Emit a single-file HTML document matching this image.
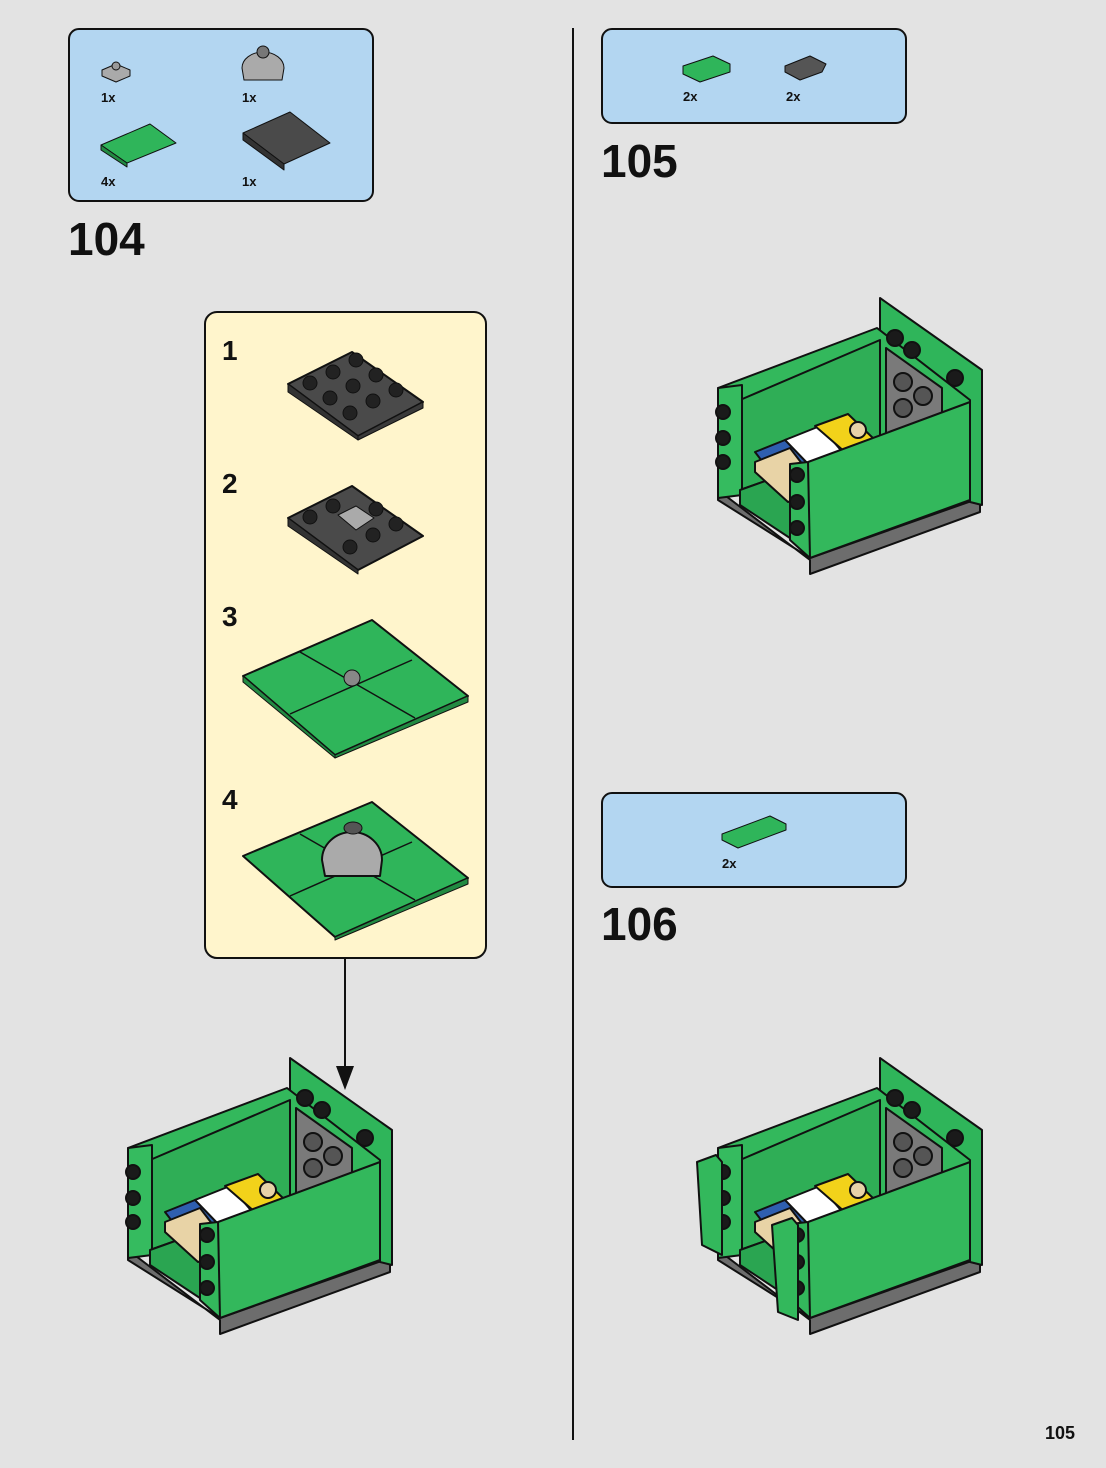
<!DOCTYPE html>
<html><head><style>
html,body{margin:0;padding:0}
body{width:1106px;height:1468px;background:#e3e3e3;position:relative;overflow:hidden;font-family:"Liberation Sans",sans-serif}
.t{position:absolute;font-weight:bold;color:#111}
</style></head><body>
<svg width="1106" height="1468" style="position:absolute;left:0;top:0" stroke-linejoin="round">
<defs>
<g id="box" stroke="#111" stroke-width="2">
  <!-- base gray -->
  <polygon points="128,1250 220,1320 220,1334 390,1272 390,1258 220,1318 128,1260" fill="#6d6d6d"/>
  <!-- right back panel -->
  <polygon points="290,1058 392,1130 392,1265 380,1262 380,1162 290,1100" fill="#2fb55a"/>
  <!-- back wall -->
  <polygon points="128,1148 287,1088 380,1160 380,1170 218,1230 152,1190 152,1250 128,1250" fill="#33b85c"/>
  <polygon points="150,1160 290,1100 290,1200 150,1250" fill="#2fae56"/>
  <!-- left wall strip -->
  <polygon points="128,1148 152,1145 152,1255 128,1258" fill="#35bb5f"/>
  <!-- floor -->
  <polygon points="150,1250 290,1200 370,1168 218,1228 218,1310 150,1265" fill="#2aa551"/>
  <!-- gray plate with studs -->
  <polygon points="296,1108 352,1148 352,1178 296,1195" fill="#7a7a7a"/>
  <circle cx="313" cy="1142" r="9" fill="#555"/><circle cx="333" cy="1156" r="9" fill="#555"/><circle cx="313" cy="1168" r="9" fill="#555"/>
  <!-- cards -->
  <polygon points="165,1212 200,1198 232,1240 198,1255" fill="#2f5fb0"/>
  <polygon points="165,1222 200,1208 232,1250 198,1262 165,1232" fill="#e8d3a6"/>
  <polygon points="195,1200 230,1186 255,1215 222,1228" fill="#fff"/>
  <polygon points="225,1186 258,1174 285,1200 255,1212" fill="#f2d21a"/>
  <circle cx="268" cy="1190" r="8" fill="#e8d3a6"/>
  <!-- front wall -->
  <polygon points="200,1224 218,1222 380,1162 380,1260 220,1318 200,1300" fill="#33b85c"/>
  <line x1="218" y1="1222" x2="220" y2="1318"/>
  <!-- studs -->
  <g fill="#1a1a1a">
   <circle cx="133" cy="1172" r="7"/><circle cx="133" cy="1198" r="7"/><circle cx="133" cy="1222" r="7"/>
   <circle cx="207" cy="1235" r="7"/><circle cx="207" cy="1262" r="7"/><circle cx="207" cy="1288" r="7"/>
   <circle cx="305" cy="1098" r="8"/><circle cx="322" cy="1110" r="8"/><circle cx="365" cy="1138" r="8"/>
  </g>
</g>
</defs>
<!-- divider -->
<line x1="573" y1="28" x2="573" y2="1440" stroke="#111" stroke-width="2"/>
<!-- parts boxes -->
<rect x="69" y="29" width="304" height="172" rx="10" fill="#b3d6f1" stroke="#111" stroke-width="2"/>
<rect x="602" y="29" width="304" height="94" rx="10" fill="#b3d6f1" stroke="#111" stroke-width="2"/>
<rect x="602" y="793" width="304" height="94" rx="10" fill="#b3d6f1" stroke="#111" stroke-width="2"/>
<!-- parts -->
<polygon points="102,70 116,64 130,70 130,76 116,82 102,76" fill="#aaa" stroke="#111"/>
<circle cx="116" cy="66" r="4" fill="#999" stroke="#111"/>
<path d="M242,68 A21,16 0 0 1 284,68 L282,80 L244,80 Z" fill="#aaa" stroke="#111"/>
<circle cx="263" cy="52" r="6" fill="#777" stroke="#111"/>
<polygon points="101,145 150,124 176,143 127,163" fill="#2fb55a" stroke="#111"/>
<polygon points="101,145 127,163 127,167 101,150" fill="#228a42" stroke="#111"/>
<polygon points="243,133 290,112 330,143 284,164" fill="#4a4a4a" stroke="#111"/>
<polygon points="243,133 284,164 284,170 243,140" fill="#333" stroke="#111"/>
<polygon points="683,66 713,56 730,64 730,72 700,82 683,74" fill="#2fb55a" stroke="#111"/>
<polygon points="785,66 810,56 826,64 822,72 800,80 785,72" fill="#555" stroke="#111"/>
<polygon points="722,834 770,816 786,824 786,830 738,848 722,840" fill="#2fb55a" stroke="#111"/>
<!-- yellow box -->
<rect x="205" y="312" width="281" height="646" rx="12" fill="#fff5cc" stroke="#111" stroke-width="2"/>
<!-- sub 1 -->
<polygon points="288,384 352,352 423,402 358,436" fill="#4a4a4a" stroke="#111" stroke-width="2"/>
<polygon points="288,384 358,436 358,440 288,392" fill="#333" stroke="#111"/>
<polygon points="358,436 423,402 423,408 358,440" fill="#3a3a3a" stroke="#111"/>
<g fill="#222" stroke="#111"><circle cx="310" cy="383" r="7"/><circle cx="333" cy="372" r="7"/><circle cx="356" cy="360" r="7"/><circle cx="330" cy="398" r="7"/><circle cx="353" cy="386" r="7"/><circle cx="376" cy="375" r="7"/><circle cx="350" cy="413" r="7"/><circle cx="373" cy="401" r="7"/><circle cx="396" cy="390" r="7"/></g>
<!-- sub 2 -->
<polygon points="288,518 352,486 423,536 358,570" fill="#4a4a4a" stroke="#111" stroke-width="2"/>
<polygon points="288,518 358,570 358,574 288,526" fill="#333" stroke="#111"/>
<polygon points="338,515 356,506 374,518 356,530" fill="#aaa" stroke="#111"/>
<g fill="#222" stroke="#111"><circle cx="310" cy="517" r="7"/><circle cx="333" cy="506" r="7"/><circle cx="376" cy="509" r="7"/><circle cx="396" cy="524" r="7"/><circle cx="350" cy="547" r="7"/><circle cx="373" cy="535" r="7"/></g>
<!-- sub 3 -->
<polygon points="243,676 372,620 468,696 335,755" fill="#2fb55a" stroke="#111" stroke-width="2"/>
<polygon points="243,676 335,755 335,758 243,682" fill="#228a42" stroke="#111"/>
<polygon points="335,755 468,696 468,702 335,758" fill="#228a42" stroke="#111"/>
<path d="M300,652 L415,718 M290,714 L412,660" stroke="#111" stroke-width="1.5"/>
<circle cx="352" cy="678" r="8" fill="#888" stroke="#111"/>
<!-- sub 4 -->
<polygon points="243,856 372,802 468,878 335,937" fill="#2fb55a" stroke="#111" stroke-width="2"/>
<polygon points="335,937 468,878 468,884 335,940" fill="#228a42" stroke="#111"/>
<path d="M300,834 L415,900 M290,896 L412,842" stroke="#111" stroke-width="1.5"/>
<path d="M322,860 A30,28 0 0 1 382,860 L380,876 L325,876 Z" fill="#aaa" stroke="#111" stroke-width="2"/>
<ellipse cx="353" cy="828" rx="9" ry="6" fill="#555" stroke="#111"/>
<!-- arrow -->
<line x1="345" y1="958" x2="345" y2="1070" stroke="#111" stroke-width="2"/>
<polygon points="336,1066 354,1066 345,1090" fill="#111"/>
<!-- models -->
<use href="#box"/>
<use href="#box" transform="translate(590,-760)"/>
<use href="#box" transform="translate(590,0)"/>
<polygon points="697,1162 716,1155 722,1162 722,1255 702,1245" fill="#33b85c" stroke="#111" stroke-width="2"/>
<polygon points="772,1225 792,1218 798,1225 798,1320 778,1312" fill="#33b85c" stroke="#111" stroke-width="2"/>
</svg>
<div class="t" style="left:101px;top:90px;font-size:13px">1x</div>
<div class="t" style="left:242px;top:90px;font-size:13px">1x</div>
<div class="t" style="left:101px;top:174px;font-size:13px">4x</div>
<div class="t" style="left:242px;top:174px;font-size:13px">1x</div>
<div class="t" style="left:683px;top:89px;font-size:13px">2x</div>
<div class="t" style="left:786px;top:89px;font-size:13px">2x</div>
<div class="t" style="left:722px;top:856px;font-size:13px">2x</div>
<div class="t" style="left:68px;top:212px;font-size:46px">104</div>
<div class="t" style="left:601px;top:134px;font-size:46px">105</div>
<div class="t" style="left:601px;top:897px;font-size:46px">106</div>
<div class="t" style="left:222px;top:335px;font-size:28px">1</div>
<div class="t" style="left:222px;top:468px;font-size:28px">2</div>
<div class="t" style="left:222px;top:601px;font-size:28px">3</div>
<div class="t" style="left:222px;top:784px;font-size:28px">4</div>
<div class="t" style="left:1045px;top:1423px;font-size:18px">105</div>
</body></html>
